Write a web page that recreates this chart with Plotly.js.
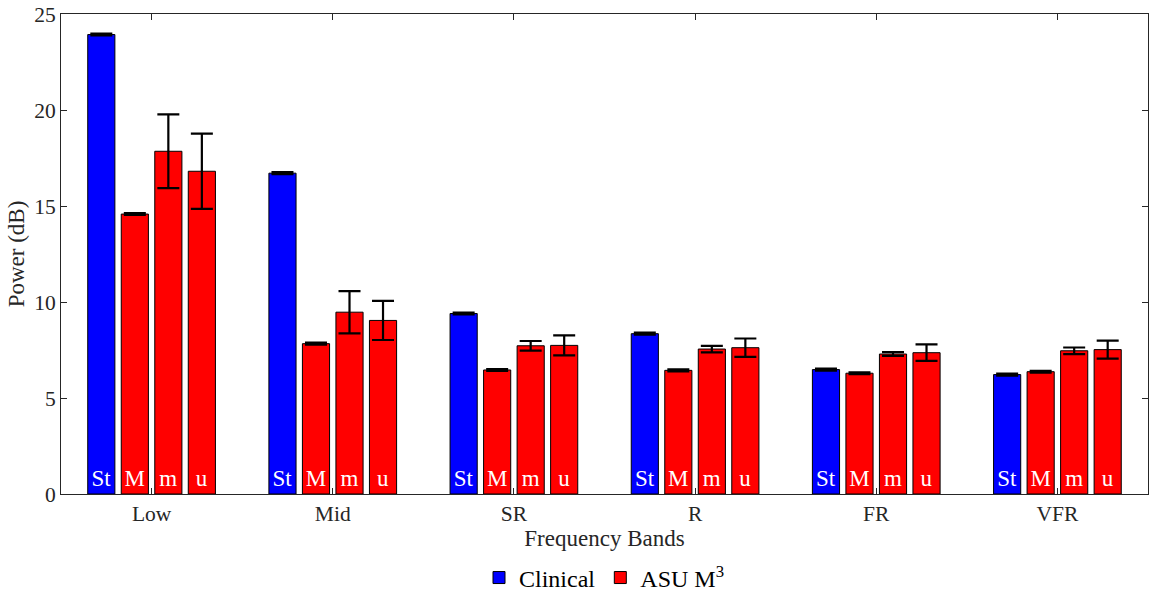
<!DOCTYPE html>
<html>
<head>
<meta charset="utf-8">
<script src="https://cdn.plot.ly/plotly-3.0.1.min.js"></script>
<style>
  html, body { margin: 0; padding: 0; background: #fff; }
  #chart { width: 1159px; height: 597px; }
</style>
</head>
<body>
<div id="chart"></div>
<script>
// Frequency bands on the x axis
const bands = ['Low', 'Mid', 'SR', 'R', 'FR', 'VFR'];

// Clinical reference (St) and ASU M^3 conditions (M, m, u), power in dB
const stPower = [23.93, 16.71, 9.40, 8.35, 6.48, 6.22];
const stErr   = [0.05, 0.05, 0.05, 0.05, 0.05, 0.05];
const bigMPower = [14.58, 7.83, 6.46, 6.44, 6.29, 6.37];
const bigMErr   = [0.05, 0.05, 0.05, 0.05, 0.05, 0.05];
const smallMPower = [17.85, 9.47, 7.72, 7.55, 7.29, 7.46];
const smallMErr   = [1.92, 1.10, 0.25, 0.17, 0.10, 0.17];
const uPower = [16.81, 9.04, 7.74, 7.62, 7.36, 7.52];
const uErr   = [1.96, 1.02, 0.52, 0.48, 0.43, 0.47];

// Short labels written at the foot of each bar
const barTags = ['St', 'M', 'm', 'u'];

const serif = '"Liberation Serif", "Times New Roman", Times, serif';
const ink = '#262626';

function barTrace(values, errs, tag, color, name, showlegend) {
  return {
    type: 'bar',
    x: bands,
    y: values,
    name: name,
    showlegend: showlegend,
    marker: { color: color, line: { color: '#000', width: 1 } },
    error_y: { type: 'data', array: errs, visible: true, color: '#000', thickness: 2.2, width: 11 },
    text: bands.map(() => tag),
    textposition: 'inside',
    insidetextanchor: 'start',
    constraintext: 'none',
    textangle: 0,
    textfont: { family: serif, size: 23, color: '#fff' },
    hoverinfo: 'x+y'
  };
}

const data = [
  barTrace(stPower, stErr, barTags[0], '#0000ff', 'Clinical', true),
  barTrace(bigMPower, bigMErr, barTags[1], '#ff0000', 'ASU M<sup>3</sup>', true),
  barTrace(smallMPower, smallMErr, barTags[2], '#ff0000', 'ASU M<sup>3</sup>', false),
  barTrace(uPower, uErr, barTags[3], '#ff0000', 'ASU M<sup>3</sup>', false)
];

const axisCommon = {
  showline: true,
  linecolor: ink,
  linewidth: 1,
  mirror: 'ticks',
  ticks: 'inside',
  ticklen: 6,
  tickcolor: ink,
  tickfont: { family: serif, size: 21.5, color: ink },
  showgrid: false,
  zeroline: false
};

const layout = {
  width: 1159,
  height: 597,
  margin: { l: 61, r: 11, t: 14, b: 103, autoexpand: false },
  paper_bgcolor: '#fff',
  plot_bgcolor: '#fff',
  barmode: 'group',
  bargap: 0.26,
  bargroupgap: 0.19,
  font: { family: serif, color: ink },
  xaxis: Object.assign({}, axisCommon, {
    type: 'category',
    range: [-0.5, 5.5],
    title: { text: 'Frequency Bands', font: { family: serif, size: 23, color: ink }, standoff: 4 }
  }),
  yaxis: Object.assign({}, axisCommon, {
    range: [0, 25],
    tickvals: [0, 5, 10, 15, 20, 25],
    title: { text: 'Power (dB)', font: { family: serif, size: 23, color: ink }, standoff: 3 }
  }),
  legend: {
    orientation: 'h',
    x: 0.5,
    xanchor: 'center',
    y: -0.128,
    yanchor: 'top',
    font: { family: serif, size: 24, color: '#000' },
    itemwidth: 30,
    tracegroupgap: 0
  }
};

Plotly.newPlot('chart', data, layout, { displayModeBar: false, staticPlot: true });
</script>
</body>
</html>
